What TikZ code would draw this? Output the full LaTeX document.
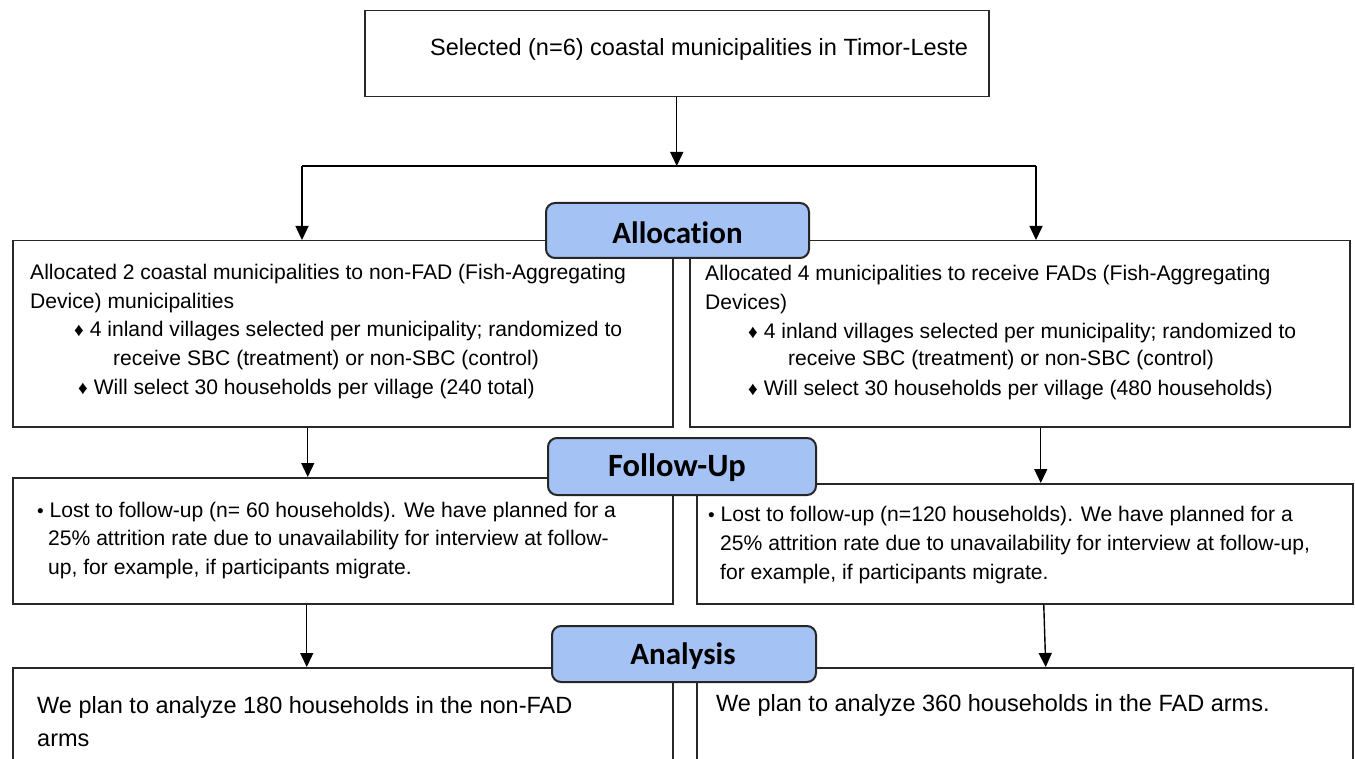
\documentclass[tikz,border=0pt]{standalone}
\usepackage{fontspec}
\setmainfont{Liberation Sans}
\newfontfamily\labfont[Ligatures=NoCommon]{Carlito}
\usetikzlibrary{arrows.meta}
\definecolor{lblue}{RGB}{164,194,244}
\definecolor{edgec}{RGB}{40,40,40}
\newcommand{\dia}{{\fontsize{19pt}{19pt}\selectfont ♦}}
\newcommand{\bul}{{\fontsize{19pt}{19pt}\selectfont •}}
\begin{document}
\begin{tikzpicture}[x=1pt,y=-1pt,
  box/.style={draw=edgec, line width=1.5pt, inner sep=0pt, anchor=north west},
  lab/.style={draw=black!85, line width=2pt, fill=lblue, rounded corners=9pt, inner sep=0pt, anchor=north west},
  txt/.style={inner sep=0pt, anchor=base west, font=\fontsize{21.1pt}{29pt}\selectfont},
  bigtxt/.style={inner sep=0pt, anchor=base west, font=\fontsize{23.5pt}{29pt}\selectfont},
  labtxt/.style={font=\labfont\bfseries\fontsize{31pt}{31pt}\selectfont, inner sep=0pt},
  arr/.style={-{Triangle[length=14pt,width=13pt]}, line width=1.4pt, draw=black},
  ln/.style={line width=1.4pt}]
\useasboundingbox (0,0) rectangle (1355,759);
\clip (0,0) rectangle (1355,759);
\fill[white] (0,0) rectangle (1355,759);

% boxes
\node[box, minimum width=624pt, minimum height=86pt] (top) at (364,10) {};
\node[box, minimum width=660pt, minimum height=186pt] (allocL) at (12,240) {};
\node[box, minimum width=660pt, minimum height=186pt] (allocR) at (689,240) {};
\node[box, minimum width=660pt, minimum height=126pt] (followL) at (12,477) {};
\node[box, minimum width=656pt, minimum height=120pt] (followR) at (696,483) {};
\node[box, minimum width=660pt, minimum height=140pt] (anaL) at (12,667) {};
\node[box, minimum width=656pt, minimum height=140pt] (anaR) at (696,667) {};

% connectors
\coordinate (sl) at (302,166);
\coordinate (sr) at (1036,166);
\draw[arr] (top.south) -- (top.south |- sl);
\draw[ln] (sl) -- (sr);
\draw[arr] (sl) -- (sl |- allocL.north);
\draw[arr] (sr) -- (sr |- allocR.north);
\draw[arr] ([xshift=-35pt]allocL.south) -- ([xshift=-35pt]allocL.south |- followL.north);
\draw[arr] ([xshift=21pt]allocR.south) -- ([xshift=21pt]allocR.south |- followR.north);
\draw[arr] ([xshift=-36pt]followL.south) -- ([xshift=-36pt]followL.south |- anaL.north);
\draw[arr] ([xshift=19pt]followR.south) -- ([xshift=21pt]anaR.north);

% labels
\node[lab, minimum width=263pt, minimum height=55pt] (alab) at (545,202) {};
\node[labtxt] (alabt) at ([yshift=-2pt]alab.center) {Allocation};
\node[lab, minimum width=268pt, minimum height=57pt] (flab) at (547,437) {};
\node[labtxt, font=\labfont\bfseries\fontsize{32.5pt}{32pt}\selectfont] (flabt) at ([xshift=-5pt,yshift=-1pt]flab.center) {Follow-Up};
\node[lab, minimum width=264pt, minimum height=56pt] (nlab) at (551,625) {};
\node[labtxt] (nlabt) at ([xshift=-1pt,yshift=-2pt]nlab.center) {Analysis};

% texts
\node[bigtxt] (t0) at (430,56) {Selected (n=6) coastal municipalities in Timor-Leste};

\node[txt] (l1) at (30,280) {Allocated 2 coastal municipalities to non-FAD (Fish-Aggregating};
\node[txt] (l2) at (30,308.5) {Device) municipalities};
\node[txt] (l3) at (74,337) {\dia\ 4 inland villages selected per municipality; randomized to};
\node[txt] (l4) at (113,365.5) {receive SBC (treatment) or non-SBC (control)};
\node[txt] (l5) at (78,394) {\dia\ Will select 30 households per village (240 total)};

\node[txt] (r1) at (705,281) {Allocated 4 municipalities to receive FADs (Fish-Aggregating};
\node[txt] (r2) at (705,310) {Devices)};
\node[txt] (r3) at (748,338) {\dia\ 4 inland villages selected per municipality; randomized to};
\node[txt] (r4) at (788,366) {receive SBC (treatment) or non-SBC (control)};
\node[txt] (r5) at (748,395) {\dia\ Will select 30 households per village (480 households)};

\node[txt] (fl1) at (37,517) {\bul\ Lost to follow-up (n= 60 households). We have planned for a};
\node[txt] (fl2) at (48,545) {25\% attrition rate due to unavailability for interview at follow-};
\node[txt] (fl3) at (48,574) {up, for example, if participants migrate.};

\node[txt] (fr1) at (708,521) {\bul\ Lost to follow-up (n=120 households). We have planned for a};
\node[txt] (fr2) at (720,550) {25\% attrition rate due to unavailability for interview at follow-up,};
\node[txt] (fr3) at (720,579) {for example, if participants migrate.};

\node[bigtxt] (al1) at (37,713) {We plan to analyze 180 households in the non-FAD};
\node[bigtxt] (al2) at (37,746) {arms};
\node[bigtxt] (ar1) at (716,711) {We plan to analyze 360 households in the FAD arms.};
\end{tikzpicture}
\end{document}
